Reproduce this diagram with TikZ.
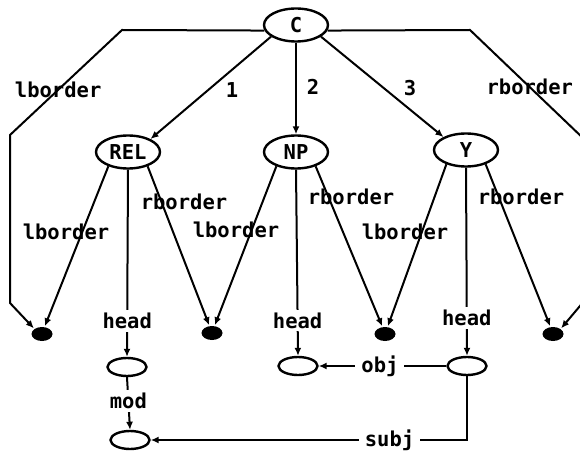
\documentclass[tikz,border=0pt]{standalone}
\usepackage{fontspec}
\newfontfamily\diagfont{DejaVu Sans Mono Bold}
\usetikzlibrary{shapes.geometric,arrows.meta}
\begin{document}
\begin{tikzpicture}[x=1pt,y=-1pt,line width=2pt,
  every node/.style={font=\diagfont\fontsize{20.5}{20.5}\selectfont},
  cat/.style={ellipse,draw,line width=2.4pt,minimum width=64pt,minimum height=33pt,inner sep=0pt},
  slot/.style={ellipse,draw,line width=2.4pt,minimum width=39pt,minimum height=18pt,inner sep=0pt},
  bnd/.style={ellipse,fill=black,minimum width=21pt,minimum height=14pt,inner sep=0pt},
  arr/.style={-{Latex[length=8pt,width=7pt]}},
  onlbl/.style={inner sep=0pt},
  cutlbl/.style={fill=white,inner sep=3pt}]
\useasboundingbox (0,0) rectangle (580,454);

% category nodes
\node[cat] (C)   at (296,25)  {C};
\node[cat] (REL) at (128,152) {REL};
\node[cat] (NP)  at (296,152) {NP};
\node[cat] (Y)   at (466,150) {Y};

% border points
\node[bnd] (d1) at (42,334)  {};
\node[bnd] (d2) at (212,333) {};
\node[bnd] (d3) at (385,334) {};
\node[bnd] (d4) at (553,334) {};

% head slots
\node[slot] (e1) at (127,367) {};
\node[slot] (e2) at (298,366) {};
\node[slot] (e3) at (467,366) {};
\node[slot] (e4) at (130,440) {};

% daughters of C
\draw[arr] (C.205) -- (REL.30);
\draw[arr] (C.south) -- (NP.north);
\draw[arr] (C.335) -- (Y.150);
\node[onlbl] (n1) at (232,90) {1};
\node[onlbl] (n2) at (313,87) {2};
\node[onlbl] (n3) at (410,88) {3};

% outer borders of C
\draw[arr] (C.190) -- (122,30) -- node[onlbl,pos=0.57] (lbC) {lborder} (10,135) -- (10,303) -- (d1.north west);
\draw[arr] (C.350) -- (470,30) -- node[onlbl,pos=0.52] (rbC) {rborder} (585,140) -- (585,300) -- (d4.north east);

% REL
\draw[arr] (REL.216) -- (d1.70);
\draw[arr] (REL.324) -- (d2.110);
\draw[arr] (REL.south) -- node[cutlbl,pos=0.81] (hdREL) {head} (e1.north);
\node[onlbl] (lbREL) at (66,232)  {lborder};
\node[onlbl] (rbREL) at (184,202) {rborder};

% NP
\draw[arr] (NP.216) -- (d2.70);
\draw[arr] (NP.324) -- (d3.110);
\draw[arr] (NP.south) -- node[cutlbl,pos=0.81] (hdNP) {head} (e2.north);
\node[onlbl] (lbNP) at (236,230) {lborder};
\node[onlbl] (rbNP) at (351,197) {rborder};

% Y
\draw[arr] (Y.216) -- (d3.70);
\draw[arr] (Y.324) -- (d4.110);
\draw[arr] (Y.south) -- node[cutlbl,pos=0.80] (hdY) {head} (e3.north);
\node[onlbl] (lbY) at (405,232) {lborder};
\node[onlbl] (rbY) at (521,197) {rborder};

% grammatical functions
\draw[arr] (e1.south) -- node[cutlbl,pos=0.45] (lbmod) {mod} (e4.north);
\draw[arr] (e3.west) -- node[cutlbl,inner xsep=6pt,pos=0.52] (lbobj) {obj} (e2.east);
\draw[arr] (e3.south) -- (e3.south |- e4.east) -- node[cutlbl,inner xsep=6pt,pos=0.245] (lbsubj) {subj} (e4.east);
\end{tikzpicture}
\end{document}
